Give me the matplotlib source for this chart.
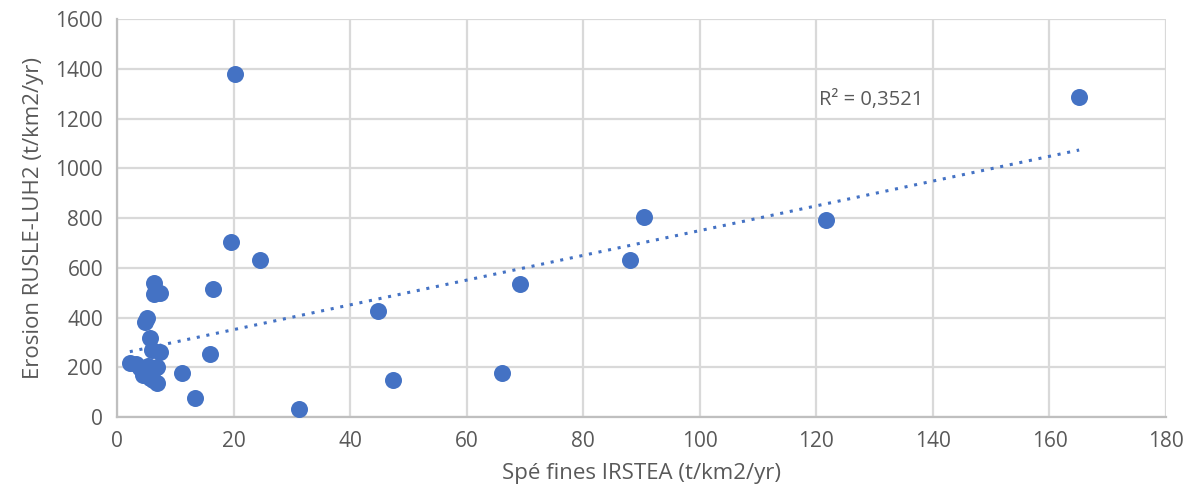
import matplotlib
matplotlib.use("Agg")
import matplotlib.pyplot as plt
import numpy as np

plt.rcParams['font.family'] = ['Open Sans', 'DejaVu Sans']

x_vals = [6.3, 6.3, 7.3, 16.5, 5.1, 4.8, 5.7, 6.0, 7.4, 16.0, 2.2, 3.3, 4.0, 4.6, 5.0, 5.6, 6.1, 5.3, 6.6, 6.9, 4.4, 5.8, 6.8, 11.1, 13.4,
          20.3, 19.6, 24.6, 31.3, 44.7, 47.3, 66.0, 69.2, 88.0, 90.5, 121.6, 165.1]
y_vals = [540, 495, 497, 513, 396, 383, 316, 269, 262, 253, 216, 214, 198, 182, 168, 158, 150, 205, 196, 200, 170, 185, 138, 175, 75,
          1378, 703, 630, 32, 426, 149, 177, 534, 630, 803, 791, 1285]
r2_label = "R² = 0,3521"
x_label = "Spé fines IRSTEA (t/km2/yr)"
y_label = "Erosion RUSLE-LUH2 (t/km2/yr)"

blue = "#4472C4"
grey_text = "#595959"
grid_c = "#D9D9D9"

fig = plt.figure(figsize=(11.89, 5.04), dpi=100)
ax = fig.add_axes([117/1189, 87/504, (1166-117)/1189, (417-19)/504])

x = np.array(x_vals)
y = np.array(y_vals)
ax.scatter(x, y, s=150, color=blue, zorder=3, linewidths=0)

coef = np.polyfit(x, y, 1)
xl = np.array([x.min(), x.max()])
ax.plot(xl, np.polyval(coef, xl), linestyle=(0, (1, 2.2)), color=blue, lw=2.2, zorder=2)

ax.text(120.5, 1275, r2_label, fontsize=14.5, color=grey_text, ha='left', va='center')

ax.set_xlim(0, 180)
ax.set_ylim(0, 1600)
ax.set_xticks(np.arange(0, 181, 20))
ax.set_yticks(np.arange(0, 1601, 200))
ax.grid(True, color=grid_c, lw=1.6, zorder=0)
ax.set_axisbelow(True)
for s in ['top', 'right']:
    ax.spines[s].set_visible(False)
for s in ['left', 'bottom']:
    ax.spines[s].set_color("#BFBFBF")
    ax.spines[s].set_linewidth(1.6)
ax.tick_params(length=0, labelsize=15, colors=grey_text, pad=10)
ax.set_xlabel(x_label, fontsize=16, color=grey_text, labelpad=8)
ax.set_ylabel(y_label, fontsize=16, color=grey_text, labelpad=8)

fig.savefig("out.png", dpi=100)
